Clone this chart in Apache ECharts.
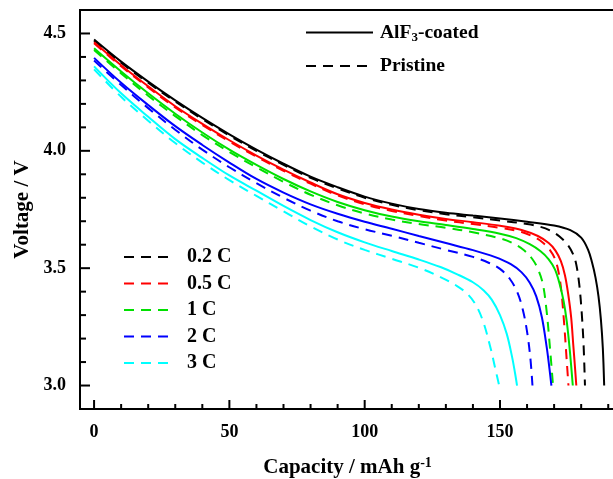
<!DOCTYPE html>
<html>
<head>
<meta charset="utf-8">
<script src="https://cdn.jsdelivr.net/npm/echarts@6/dist/echarts.min.js"></script>
<style>
  html, body { margin: 0; padding: 0; background: #fff; }
  #main { width: 613px; height: 479px; }
</style>
</head>
<body>
<div id="main"></div>
<script>
// capacity (mAh/g), voltage (V) pairs
let coated_02C = [[0,4.474],[10,4.38],[20,4.295],[30,4.215],[40,4.14],[50,4.07],[60,4.005],[70,3.945],[80,3.89],[90,3.845],[100,3.805],[110,3.775],[120,3.752],[130,3.736],[140,3.724],[150,3.712],[160,3.698],[170,3.682],[176,3.662],[180,3.63],[182.5,3.58],[184,3.525],[185.3,3.46],[186.4,3.38],[187.3,3.28],[188,3.16],[188.5,3.0]];
let pristine_02C = [[0,4.468],[10,4.375],[20,4.29],[30,4.21],[40,4.135],[50,4.065],[60,4.0],[70,3.94],[80,3.885],[90,3.84],[100,3.80],[110,3.77],[120,3.747],[130,3.73],[140,3.717],[150,3.703],[160,3.688],[165,3.676],[169,3.658],[172,3.635],[175,3.60],[177,3.56],[178.2,3.515],[179.3,3.43],[180.2,3.31],[180.9,3.17],[181.4,3.0]];
let coated_05C = [[0,4.463],[10,4.365],[20,4.275],[30,4.19],[40,4.115],[50,4.045],[60,3.98],[70,3.92],[80,3.865],[90,3.815],[100,3.778],[110,3.75],[120,3.728],[130,3.71],[140,3.696],[150,3.681],[158,3.663],[164,3.637],[168,3.607],[170.5,3.575],[172.5,3.53],[174,3.47],[175.2,3.39],[176.3,3.29],[177.1,3.17],[177.7,3.08],[178.2,3.0]];
let pristine_05C = [[0,4.458],[10,4.36],[20,4.27],[30,4.185],[40,4.11],[50,4.04],[60,3.975],[70,3.915],[80,3.86],[90,3.81],[100,3.772],[110,3.744],[120,3.722],[130,3.703],[140,3.688],[150,3.672],[158,3.654],[163.4,3.628],[166,3.607],[168.3,3.58],[170.3,3.54],[171.7,3.48],[172.7,3.40],[173.8,3.25],[174.7,3.1],[175.3,3.0]];
let coated_1C = [[0,4.437],[10,4.338],[20,4.245],[30,4.158],[40,4.078],[50,4.005],[60,3.94],[70,3.88],[80,3.827],[90,3.782],[100,3.747],[110,3.72],[120,3.70],[130,3.684],[140,3.667],[150,3.647],[156,3.628],[161,3.602],[165,3.572],[168,3.538],[170.3,3.495],[172,3.435],[173.5,3.36],[174.7,3.27],[175.8,3.15],[176.9,3.0]];
let pristine_1C = [[0,4.43],[10,4.33],[20,4.235],[30,4.148],[40,4.067],[50,3.995],[60,3.93],[70,3.868],[80,3.813],[90,3.768],[100,3.733],[110,3.707],[120,3.688],[130,3.672],[140,3.653],[150,3.627],[155,3.605],[159,3.575],[162,3.538],[164,3.497],[165.8,3.435],[167.2,3.32],[168.4,3.17],[169.6,3.0]];
let coated_2C = [[0,4.396],[10,4.29],[20,4.195],[30,4.105],[40,4.025],[50,3.95],[60,3.88],[70,3.822],[80,3.772],[90,3.732],[100,3.698],[110,3.668],[120,3.637],[130,3.607],[140,3.577],[148,3.548],[154,3.517],[158,3.482],[161,3.438],[163.4,3.38],[165.5,3.29],[167.3,3.16],[168.3,3.07],[169,3.0]];
let pristine_2C = [[0,4.385],[10,4.28],[20,4.182],[30,4.09],[40,4.005],[50,3.93],[60,3.862],[70,3.8],[80,3.745],[90,3.70],[100,3.666],[110,3.638],[120,3.608],[130,3.578],[140,3.548],[146,3.522],[150,3.497],[153.6,3.455],[156.5,3.395],[158.5,3.32],[160,3.23],[161.2,3.12],[162,3.0]];
let coated_3C = [[0,4.36],[10,4.245],[20,4.145],[30,4.05],[40,3.97],[50,3.895],[60,3.83],[70,3.765],[80,3.705],[90,3.653],[100,3.61],[110,3.573],[120,3.537],[128,3.505],[134,3.475],[140,3.44],[144,3.405],[147,3.365],[150,3.30],[152.5,3.22],[154.5,3.12],[155.6,3.05],[156.3,3.0]];
let pristine_3C = [[0,4.347],[10,4.23],[20,4.128],[30,4.033],[40,3.95],[50,3.875],[60,3.808],[70,3.742],[80,3.678],[90,3.622],[100,3.578],[110,3.54],[120,3.502],[128,3.462],[134,3.425],[138,3.39],[141,3.345],[143.7,3.275],[146.3,3.17],[148.3,3.07],[149.7,3.0]];

let rate_names = ['0.2 C', '0.5 C', '1 C', '2 C', '3 C'];
let rate_colors = ['#000000', '#ff0000', '#00e000', '#0000ff', '#00ffff'];
let coated_list = [coated_02C, coated_05C, coated_1C, coated_2C, coated_3C];
let pristine_list = [pristine_02C, pristine_05C, pristine_1C, pristine_2C, pristine_3C];

let x_labels = [0, 50, 100, 150];
let x_ticks = [0, 10, 20, 30, 40, 50, 60, 70, 80, 90, 100, 110, 120, 130, 140, 150, 160, 170, 180, 190];
let y_labels = [3.0, 3.5, 4.0, 4.5];
let y_ticks = [3.0, 3.1, 3.2, 3.3, 3.4, 3.5, 3.6, 3.7, 3.8, 3.9, 4.0, 4.1, 4.2, 4.3, 4.4, 4.5];

const FONT = 'Liberation Serif';
const DASH = [10, 7];
const X_MIN = -5.2, X_MAX = 192.5;
const Y_MIN = 2.9, Y_MAX = 4.6;

let mainchart = echarts.init(document.getElementById('main'));

let series = [];
for (let i = 0; i < rate_names.length; i++) {
    series.push({
        name: rate_names[i] + ' coated',
        type: 'line',
        data: coated_list[i],
        symbol: 'none',
        smooth: 0.35,
        lineStyle: { color: rate_colors[i], width: 2 },
        itemStyle: { color: rate_colors[i] }
    });
    series.push({
        name: rate_names[i],
        type: 'line',
        data: pristine_list[i],
        symbol: 'none',
        smooth: 0.35,
        lineStyle: { color: rate_colors[i], width: 2, type: DASH },
        itemStyle: { color: rate_colors[i] }
    });
}
// dummy series just for the top legend
series.push({
    name: 'AlF3-coated', type: 'line', data: [], symbol: 'none',
    lineStyle: { color: '#000', width: 2 }, itemStyle: { color: '#000' }
});
series.push({
    name: 'Pristine', type: 'line', data: [], symbol: 'none',
    lineStyle: { color: '#000', width: 2, type: DASH }, itemStyle: { color: '#000' }
});

// inward ticks (long at labelled values, short elsewhere), placed through the axes' scales
series.push({
    name: 'y ticks', type: 'custom', silent: true, clip: false,
    data: y_ticks.map(function (v) { return [X_MIN, v]; }),
    renderItem: function (params, api) {
        let v = api.value(1);
        let p = api.coord([X_MIN, v]);
        let len = y_labels.indexOf(v) >= 0 ? 10 : 6;
        return { type: 'line', shape: { x1: p[0], y1: p[1], x2: p[0] + len, y2: p[1] },
                 style: { stroke: '#000', lineWidth: 2 } };
    }
});
series.push({
    name: 'x ticks', type: 'custom', silent: true, clip: false,
    data: x_ticks.map(function (v) { return [v, Y_MIN]; }),
    renderItem: function (params, api) {
        let v = api.value(0);
        let p = api.coord([v, Y_MIN]);
        let len = x_labels.indexOf(v) >= 0 ? 9 : 5;
        return { type: 'line', shape: { x1: p[0], y1: p[1], x2: p[0], y2: p[1] - len },
                 style: { stroke: '#000', lineWidth: 2 } };
    }
});

let tickStyle = { color: '#000', width: 2 };

let chart_config = {
    animation: false,
    backgroundColor: '#fff',
    grid: {
        left: 80, top: 10, width: 535, height: 399,
        show: true, borderColor: '#000', borderWidth: 2,
        outerBoundsMode: 'none'
    },
    legend: [{
        data: ['AlF3-coated', 'Pristine'],
        orient: 'vertical',
        left: 305, top: 21, padding: 0,
        itemWidth: 67, itemHeight: 14, itemGap: 11,
        selectedMode: false,
        itemStyle: { opacity: 0 },
        formatter: function (name) {
            return name === 'AlF3-coated' ? 'AlF{sub|3}-coated' : name;
        },
        textStyle: {
            fontFamily: FONT, fontWeight: 'bold', fontSize: 19.5, color: '#000',
            lineHeight: 22,
            padding: [0, 0, 0, 2],
            rich: {
                sub: { fontFamily: FONT, fontWeight: 'bold', fontSize: 13, color: '#000', lineHeight: 12, padding: [10, 0, 0, 0] }
            }
        }
    }, {
        data: rate_names,
        orient: 'vertical',
        left: 123, top: 247, padding: 0,
        itemWidth: 50, itemHeight: 14, itemGap: 6.5,
        selectedMode: false,
        itemStyle: { opacity: 0 },
        textStyle: {
            fontFamily: FONT, fontWeight: 'bold', fontSize: 20, color: '#000',
            lineHeight: 20,
            padding: [0, 0, 0, 8]
        }
    }],
    xAxis: {
        type: 'value',
        min: X_MIN, max: X_MAX,
        position: 'bottom',
        name: 'Capacity / mAh g{sup|-1}',
        nameLocation: 'middle',
        nameGap: 47,
        nameTextStyle: {
            fontFamily: FONT, fontWeight: 'bold', fontSize: 21, color: '#000',
            rich: {
                sup: { fontFamily: FONT, fontWeight: 'bold', fontSize: 14, color: '#000', padding: [0, 0, 10, 0] }
            }
        },
        axisLine: { show: true, onZero: false, lineStyle: tickStyle },
        axisTick: { show: false },
        axisLabel: {
            customValues: x_labels, margin: 14,
            fontFamily: FONT, fontWeight: 'bold', fontSize: 18, color: '#000'
        },
        splitLine: { show: false }
    },
    yAxis: {
        type: 'value',
        min: Y_MIN, max: Y_MAX,
        position: 'left',
        name: 'Voltage / V',
        nameLocation: 'middle',
        nameGap: 47,
        nameTextStyle: { fontFamily: FONT, fontWeight: 'bold', fontSize: 21, color: '#000' },
        axisLine: { show: true, onZero: false, lineStyle: tickStyle },
        axisTick: { show: false },
        axisLabel: {
            customValues: y_labels, margin: 14,
            fontFamily: FONT, fontWeight: 'bold', fontSize: 18, color: '#000',
            formatter: function (v) { return v.toFixed(1); }
        },
        splitLine: { show: false }
    },
    series: series
};
mainchart.setOption(chart_config);
</script>
</body>
</html>
